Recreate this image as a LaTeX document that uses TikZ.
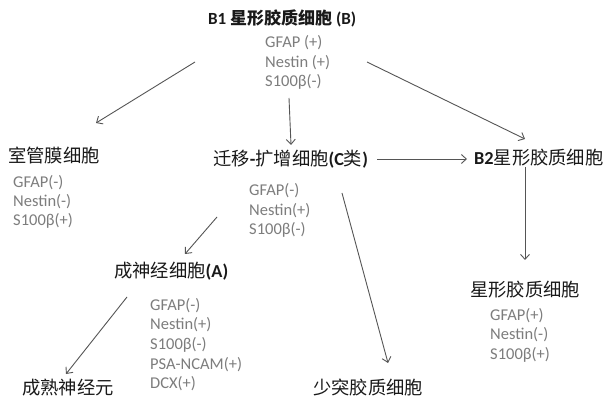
\documentclass[tikz,border=0pt]{standalone}
\usepackage{fontspec}
\setmainfont{Carlito}
\newfontfamily\cjk{Noto Sans CJK SC}
\usetikzlibrary{arrows.meta}
\definecolor{mkc}{RGB}{125,125,125}
\definecolor{lnc}{RGB}{85,85,85}
\definecolor{txc}{RGB}{25,25,25}
\begin{document}
\begin{tikzpicture}[x=1pt,y=-1pt,
  lbl/.style={anchor=base west,inner sep=0,text=txc,font=\fontsize{18.3}{20}\selectfont},
  ttl/.style={anchor=base west,inner sep=0,text=txc,font=\fontsize{17}{20}\selectfont},
  mk/.style={anchor=base west,inner sep=0,text=mkc,font=\fontsize{16.5}{19}\selectfont},
  arr/.style={draw=lnc,line width=0.9pt,-{Straight Barb[length=5pt,width=9pt]}}]
\fill[white] (0,0) rectangle (608,398);
\useasboundingbox (0,0) rectangle (608,398);

% title
\node[ttl] (b1) at (208,24.5) {{\bfseries B1 }{\cjk\bfseries 星形胶质细胞}{\bfseries\ (B)}};
\node[mk] (b1m1) at (265,48) {GFAP (+)};
\node[mk] (b1m2) at (265,68) {Nestin (+)};
\node[mk] (b1m3) at (265,87) {S100β(-)};

% row 2
\node[lbl] (epen) at (8,163) {\cjk 室管膜细胞};
\node[mk] (em1) at (13,188) {GFAP(-)};
\node[mk] (em2) at (13,207) {Nestin(-)};
\node[mk] (em3) at (13,226) {S100β(+)};

\node[lbl] (cc) at (213,166) {{\cjk 迁移}{\bfseries -}{\cjk 扩增细胞}{\bfseries (C}{\cjk 类}{\bfseries )}};
\node[mk] (cm1) at (249,196) {GFAP(-)};
\node[mk] (cm2) at (249,215.5) {Nestin(+)};
\node[mk] (cm3) at (249,235) {S100β(-)};

\node[lbl] (b2) at (474,165) {{\bfseries B2}{\cjk 星形胶质细胞}};

% row 3
\node[lbl] (aa) at (114,277) {{\cjk 成神经细胞}{\bfseries (A)}};
\node[mk] (am1) at (150,310) {GFAP(-)};
\node[mk] (am2) at (150,329.7) {Nestin(+)};
\node[mk] (am3) at (150,349.4) {S100β(-)};
\node[mk] (am4) at (150,369.1) {PSA-NCAM(+)};
\node[mk] (am5) at (150,388.8) {DCX(+)};

\node[lbl] (astro) at (470,296) {\cjk 星形胶质细胞};
\node[mk] (sm1) at (490,320) {GFAP(+)};
\node[mk] (sm2) at (490,339.5) {Nestin(-)};
\node[mk] (sm3) at (490,359) {S100β(+)};

% bottom
\node[lbl] (mat) at (22,394) {\cjk 成熟神经元};
\node[lbl] (olig) at (313,394) {\cjk 少突胶质细胞};

% arrow end points
\coordinate (p1s) at (195,62);  \coordinate (p1e) at (96,123);
\coordinate (p2s) at (289,98);  \coordinate (p2e) at (291,145);
\coordinate (p3s) at (367,62);  \coordinate (p3e) at (525,139);
\coordinate (p4s) at (377,159); \coordinate (p4e) at (467,159);
\coordinate (p5s) at (525,167); \coordinate (p5e) at (525,260);
\coordinate (p6s) at (217,217); \coordinate (p6e) at (185,254);
\coordinate (p7s) at (342,193); \coordinate (p7e) at (388,363);
\coordinate (p8s) at (127,297); \coordinate (p8e) at (66,374);

\draw[arr] (p1s) -- (p1e);
\draw[arr] (p2s) -- (p2e);
\draw[arr] (p3s) -- (p3e);
\draw[arr] (p4s) -- (p4e);
\draw[arr] (p5s) -- (p5e);
\draw[arr] (p6s) -- (p6e);
\draw[arr] (p7s) -- (p7e);
\draw[arr] (p8s) -- (p8e);
\end{tikzpicture}
\end{document}
